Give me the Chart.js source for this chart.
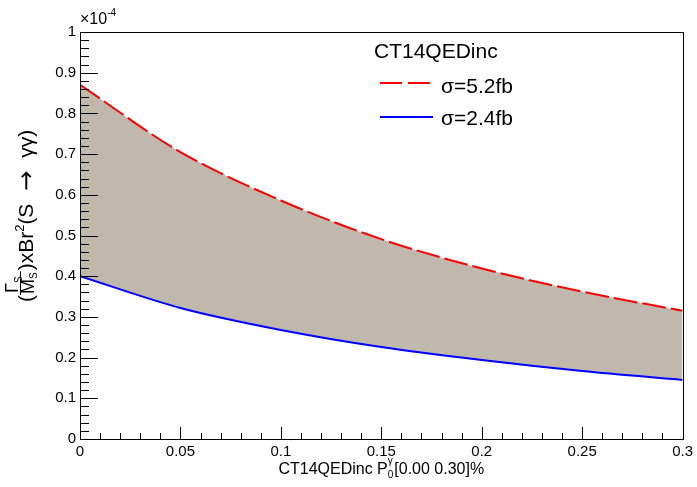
<!DOCTYPE html>
<html>
<head>
<meta charset="utf-8">
<script src="https://cdn.jsdelivr.net/npm/chart.js@4"></script>
<style>
  body { margin: 0; background: #fff; }
  #c { display: block; }
</style>
</head>
<body>
<canvas id="c" width="697" height="487"></canvas>
<script>
// datos (eje y en unidades de 1e-4)
const xValues = [0, 0.05, 0.1, 0.15, 0.2, 0.25, 0.3];
const sigma52 = [0.870, 0.705, 0.586, 0.491, 0.419, 0.362, 0.315];
const sigma24 = [0.400, 0.322, 0.268, 0.226, 0.194, 0.167, 0.145];
const seriesLabels = ['σ=5.2fb', 'σ=2.4fb'];
const legendTitle = 'CT14QEDinc';
const xTickLabels = ['0', '0.05', '0.1', '0.15', '0.2', '0.25', '0.3'];
const yTickLabels = ['0', '0.1', '0.2', '0.3', '0.4', '0.5', '0.6', '0.7', '0.8', '0.9', '1'];

const FONT = '"Liberation Sans", Arial, Helvetica, sans-serif';

// ticks hacia dentro + marco, estilo ROOT
const rootFrame = {
  id: 'rootFrame',
  afterDatasetsDraw(chart) {
    const ctx = chart.ctx, a = chart.chartArea;
    const xs = chart.scales.x, ys = chart.scales.y;
    ctx.save();
    ctx.strokeStyle = '#000';
    ctx.lineWidth = 1;
    ctx.beginPath();
    for (let i = 0; i <= 50; i++) {
      const py = Math.round(ys.getPixelForValue(i * 0.02)) + 0.5;
      const len = i % 5 === 0 ? 18 : 9;
      ctx.moveTo(a.left, py); ctx.lineTo(a.left + len, py);
    }
    for (let i = 0; i <= 30; i++) {
      const px = Math.round(xs.getPixelForValue(i * 0.01)) + 0.5;
      const len = i % 5 === 0 ? 12 : 6;
      ctx.moveTo(px, a.bottom); ctx.lineTo(px, a.bottom - len);
    }
    ctx.stroke();
    ctx.strokeRect(Math.round(a.left) + 0.5, Math.round(a.top) + 0.5,
      Math.round(a.right - a.left), Math.round(a.bottom - a.top));
    ctx.restore();
  },
  afterDraw(chart) {
    const ctx = chart.ctx, a = chart.chartArea;
    ctx.save();
    ctx.fillStyle = '#000';
    ctx.textBaseline = 'alphabetic';
    ctx.textAlign = 'left';

    // x10^-4
    ctx.font = '16px ' + FONT;
    ctx.fillText('×10', a.left, 24);
    const w10 = ctx.measureText('×10').width;
    ctx.font = '10px ' + FONT;
    ctx.fillText('-4', a.left + w10, 16);

    // leyenda
    ctx.font = '21px ' + FONT;
    ctx.fillText(legendTitle, 374, 58);
    ctx.lineWidth = 2;
    ctx.strokeStyle = '#ff0000';
    ctx.setLineDash([22, 6]);
    ctx.beginPath(); ctx.moveTo(380, 83); ctx.lineTo(433, 83); ctx.stroke();
    ctx.setLineDash([]);
    ctx.strokeStyle = '#0000ff';
    ctx.beginPath(); ctx.moveTo(380, 117); ctx.lineTo(433, 117); ctx.stroke();
    ctx.fillText(seriesLabels[0], 441, 93);
    ctx.fillText(seriesLabels[1], 441, 125);

    // titulo eje x: CT14QEDinc P_0^gamma[0.00 0.30]%
    const partA = 'CT14QEDinc P', partB = '[0.00 0.30]%';
    ctx.font = '16px ' + FONT;
    const wA = ctx.measureText(partA).width, wB = ctx.measureText(partB).width;
    ctx.font = '10px ' + FONT;
    const wS = Math.max(ctx.measureText('0').width, ctx.measureText('γ').width) + 1;
    let x0 = (a.left + a.right) / 2 - (wA + wS + wB) / 2;
    ctx.font = '16px ' + FONT;
    ctx.fillText(partA, x0, 474);
    ctx.font = '10px ' + FONT;
    ctx.fillText('0', x0 + wA, 478);
    ctx.fillText('γ', x0 + wA, 464);
    ctx.font = '16px ' + FONT;
    ctx.fillText(partB, x0 + wA + wS, 474);

    // titulo eje y: (Gamma_S/M_S)xBr^2(S -> gamma gamma)
    ctx.translate(34, 302);
    ctx.rotate(-Math.PI / 2);
    let u = 0;
    ctx.font = '21px ' + FONT;
    ctx.fillText('(', u, -1);
    u += ctx.measureText('(').width;
    ctx.font = '18px ' + FONT;
    const gw = ctx.measureText('Γ').width, mw = ctx.measureText('M').width;
    ctx.font = '10px ' + FONT;
    const sw = ctx.measureText('S').width;
    const fw = Math.max(gw, mw) + sw + 1;
    ctx.font = '18px ' + FONT;
    ctx.fillText('Γ', u + 2, -16);
    ctx.fillText('M', u + 1, 0);
    ctx.font = '10px ' + FONT;
    ctx.fillText('S', u + 2 + gw, -12);
    ctx.fillText('S', u + 1 + mw, 3);
    ctx.fillRect(u, -14, fw + 1, 1);
    u += fw + 2;
    ctx.font = '21px ' + FONT;
    ctx.fillText(')xBr', u, -1);
    u += ctx.measureText(')xBr').width;
    ctx.font = '13px ' + FONT;
    ctx.fillText('2', u, -10);
    u += ctx.measureText('2').width;
    ctx.font = '21px ' + FONT;
    ctx.fillText('(S ', u, -1);
    u += ctx.measureText('(S ').width + 7;
    ctx.font = '24px "DejaVu Sans", sans-serif';
    ctx.fillText('\u2192', u, 0);
    u += ctx.measureText('\u2192').width + 7;
    ctx.font = '21px ' + FONT;
    ctx.fillText(' \u03b3\u03b3)', u, -1);
    ctx.restore();
  }
};

new Chart(document.getElementById('c'), {
  type: 'line',
  data: {
    datasets: [{
      label: seriesLabels[0],
      data: xValues.map((x, i) => ({ x: x, y: sigma52[i] })),
      borderColor: '#ff0000',
      borderWidth: 2,
      borderDash: [24, 5],
      backgroundColor: '#c0b7ad',
      fill: '+1',
      pointRadius: 0,
      cubicInterpolationMode: 'monotone'
    }, {
      label: seriesLabels[1],
      data: xValues.map((x, i) => ({ x: x, y: sigma24[i] })),
      borderColor: '#0000ff',
      borderWidth: 2,
      fill: false,
      pointRadius: 0,
      cubicInterpolationMode: 'monotone'
    }]
  },
  options: {
    responsive: false,
    animation: false,
    devicePixelRatio: 1,
    layout: { padding: { left: 0, top: 32, right: 13, bottom: 0 } },
    plugins: {
      legend: { display: false },
      tooltip: { enabled: false },
      filler: { drawTime: 'beforeDatasetsDraw' }
    },
    scales: {
      x: {
        type: 'linear', min: 0, max: 0.3,
        border: { display: false },
        grid: { display: false, drawTicks: false },
        ticks: {
          stepSize: 0.05, padding: 4, maxRotation: 0, autoSkip: false,
          color: '#000', font: { family: FONT, size: 15 },
          callback: (v, i) => xTickLabels[i]
        },
        afterFit(s) { s.height = 48; }
      },
      y: {
        min: 0, max: 1,
        border: { display: false },
        grid: { display: false, drawTicks: false },
        ticks: {
          stepSize: 0.1, padding: 4, autoSkip: false,
          color: '#000', font: { family: FONT, size: 15 },
          callback: (v, i) => yTickLabels[i]
        },
        afterFit(s) { s.width = 80; }
      }
    }
  },
  plugins: [rootFrame]
});
</script>
</body>
</html>
